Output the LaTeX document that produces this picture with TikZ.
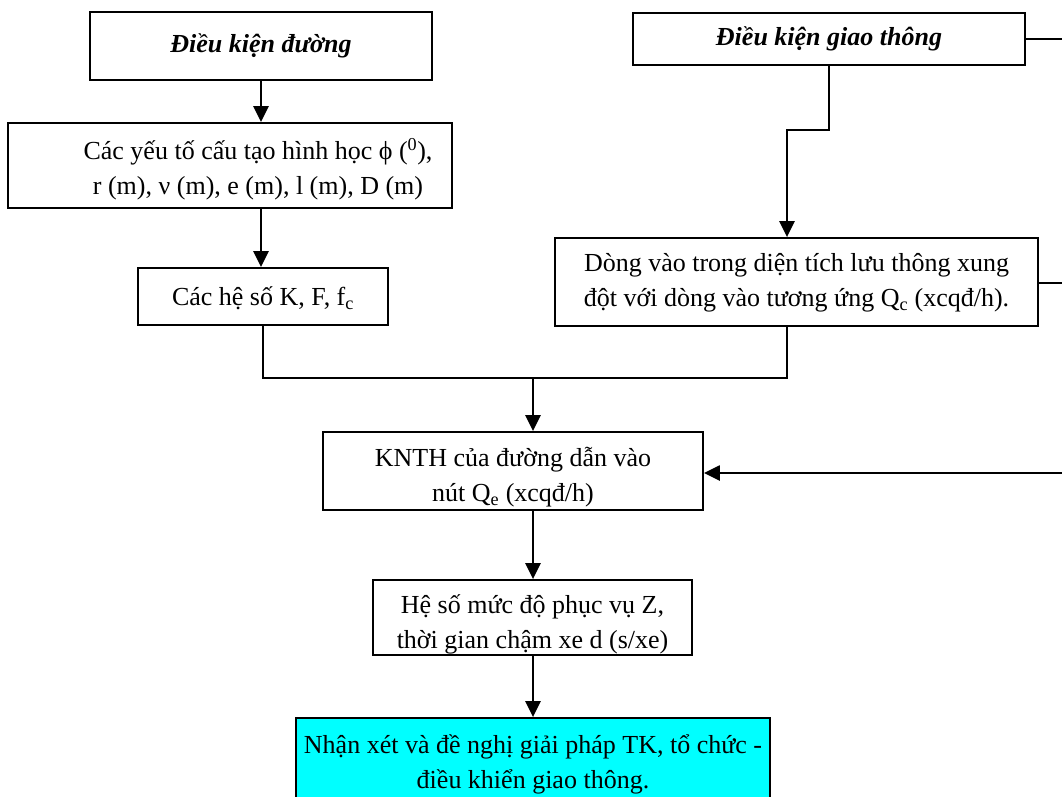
\documentclass[tikz,border=0pt]{standalone}
\usepackage{fontspec}
\setmainfont{Liberation Serif}
\usetikzlibrary{arrows.meta}
\definecolor{boxcyan}{RGB}{0,255,255}
\begin{document}
\begin{tikzpicture}[x=1pt,y=-1pt,
  box/.style={draw, line width=1.8pt, inner sep=0pt, align=center, font=\fontsize{26}{35}\selectfont},
  txt/.style={inner sep=0pt, align=center, font=\fontsize{26}{35}\selectfont},
  ln/.style={line width=2.4pt},
  arr/.style={ln, -{Triangle[length=16pt,width=15pt]}}]
\useasboundingbox (0,0) rectangle (1062,796);
\clip (0,0) rectangle (1062,796);
\node[box, minimum width=342pt, minimum height=68pt] (A) at (261,46) {\textbf{\textit{Điều kiện đường}}};
\node[box, minimum width=444pt, minimum height=85pt] (B) at (230,165.5) {};
\node[txt] (Bt) at (258,169.5) {Các yếu tố cấu tạo hình học ϕ (\textsuperscript{0}),\\r (m), ν (m), e (m), l (m), D (m)};
\node[box, minimum width=250pt, minimum height=57pt] (C) at (263,296.5) {};
\node[txt] (Ct) at (263,298.5) {Các hệ số K, F, f\textsubscript{c}};
\node[box, minimum width=392pt, minimum height=52pt] (D) at (829,39) {\textbf{\textit{Điều kiện giao thông}}};
\node[box, minimum width=483pt, minimum height=88pt] (E) at (796.5,282) {};
\node[txt] (Et) at (796.5,283) {Dòng vào trong diện tích lưu thông xung\\đột với dòng vào tương ứng Q\textsubscript{c} (xcqđ/h).};
\node[box, minimum width=380pt, minimum height=78pt] (F) at (513,471) {};
\node[txt] (Ft) at (513,477) {KNTH của đường dẫn vào\\nút Q\textsubscript{e} (xcqđ/h)};
\node[box, minimum width=319pt, minimum height=75pt] (G) at (532.5,617.5) {};
\node[txt] (Gt) at (532.5,624) {Hệ số mức độ phục vụ Z,\\thời gian chậm xe d (s/xe)};
\node[box, fill=boxcyan, minimum width=474pt, minimum height=92pt] (H) at (533,764) {Nhận xét và đề nghị giải pháp TK, tổ chức -\\điều khiển giao thông.};
\coordinate (d1) at (829,130);
\coordinate (ein) at (787,0);
\coordinate (j1) at (263,378);
\coordinate (jm) at (533,378);
\coordinate (r1) at (1062,39);
\coordinate (r2) at (1062,283);
\coordinate (r3) at (1062,473);
\draw[arr] (A.south) -- (A.south |- B.north);
\draw[arr] (A.south |- B.south) -- (A.south |- C.north);
\draw[arr] (D.south) -- (d1) -| (ein |- E.north);
\draw[ln] (D.east) -- (r1);
\draw[ln] (E.east |- r2) -- (r2);
\draw[arr] (r3) -- (F.east |- r3);
\draw[ln] (C.south) -- (C.south |- j1) -| (ein |- E.south);
\draw[arr] (jm) -- (jm |- F.north);
\draw[arr] (jm |- F.south) -- (jm |- G.north);
\draw[arr] (jm |- G.south) -- (jm |- H.north);
\end{tikzpicture}
\end{document}
